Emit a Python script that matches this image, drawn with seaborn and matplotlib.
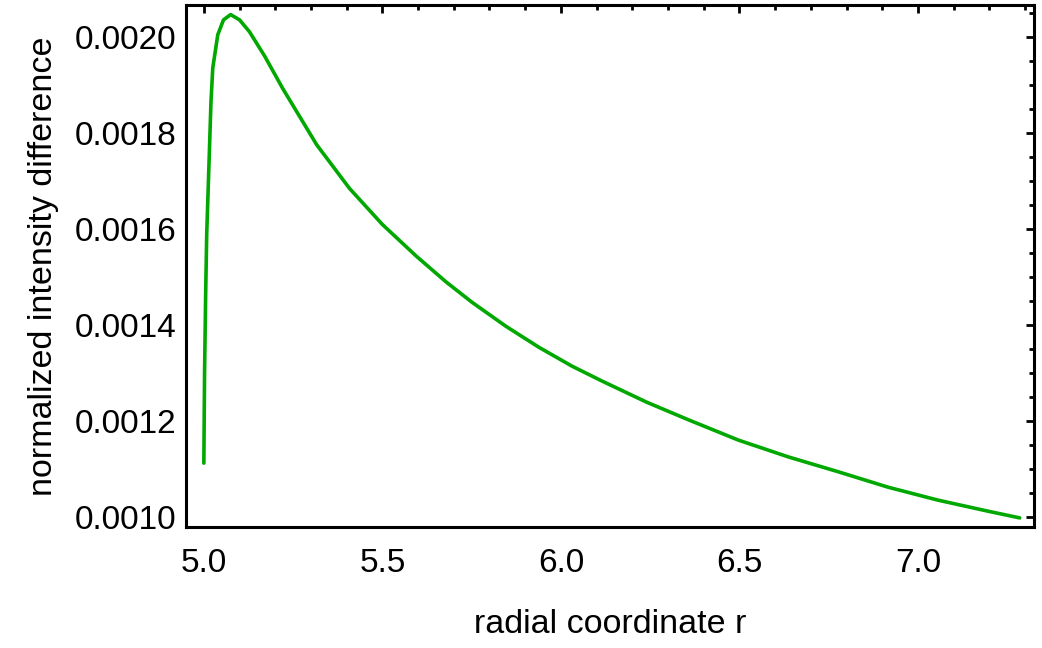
import matplotlib
matplotlib.use("Agg")
import matplotlib.pyplot as plt
from matplotlib.ticker import MultipleLocator, FormatStrFormatter
import seaborn as sns
import pandas as pd

# values
r = [5.000, 5.002, 5.005, 5.008, 5.014, 5.020, 5.025, 5.039, 5.055, 5.075,
     5.100, 5.128, 5.170, 5.221, 5.316, 5.408, 5.500, 5.595, 5.679, 5.751,
     5.846, 5.939, 6.031, 6.115, 6.240, 6.358, 6.497, 6.637, 6.777, 6.916,
     7.056, 7.196, 7.285]
intensity = [0.001112, 0.001300, 0.001460, 0.001588, 0.001726, 0.001865, 0.001935,
             0.002004, 0.002035, 0.002046, 0.002035, 0.002010, 0.001960, 0.001892,
             0.001775, 0.001684, 0.001609, 0.001543, 0.001489, 0.001447, 0.001397,
             0.001353, 0.001314, 0.001283, 0.001239, 0.001202, 0.001160, 0.001125,
             0.001094, 0.001062, 0.001035, 0.001012, 0.000998]

x_major = [5.0, 5.5, 6.0, 6.5, 7.0]
y_major = [0.0010, 0.0012, 0.0014, 0.0016, 0.0018, 0.0020]

df = pd.DataFrame({"r": r, "diff": intensity})

sns.set_style("white")
plt.rcParams["font.family"] = ["Liberation Sans", "DejaVu Sans"]

fig, ax = plt.subplots(figsize=(10.42, 6.48), dpi=100)
fig.subplots_adjust(left=0.1785, right=0.9923, top=0.9923, bottom=0.1867)

sns.lineplot(data=df, x="r", y="diff", ax=ax, color="#00a800", linewidth=2.6,
             estimator=None, sort=False)

ax.set_xlim(4.95, 7.325)
ax.set_ylim(0.000979, 0.002066)

ax.set_xticks(x_major)
ax.set_yticks(y_major)
ax.xaxis.set_minor_locator(MultipleLocator(0.1))
ax.yaxis.set_minor_locator(MultipleLocator(0.00005))
ax.xaxis.set_major_formatter(FormatStrFormatter("%.1f"))
ax.yaxis.set_major_formatter(FormatStrFormatter("%.4f"))

for side in ax.spines.values():
    side.set_color("black")
    side.set_linewidth(2.2)

ax.tick_params(which="both", direction="in", top=True, right=True, color="black",
               labelsize=24, labelcolor="black")
ax.tick_params(which="major", length=6, width=2)
ax.tick_params(which="minor", length=3.5, width=2)
ax.tick_params(axis="x", which="major", pad=15)
ax.tick_params(axis="y", which="major", pad=7)

ax.set_xlabel("radial coordinate r", fontsize=24.5, labelpad=22, color="black")
ax.set_ylabel("normalized intensity difference", fontsize=24.5, labelpad=11, color="black")

fig.savefig("out.png", dpi=100)
